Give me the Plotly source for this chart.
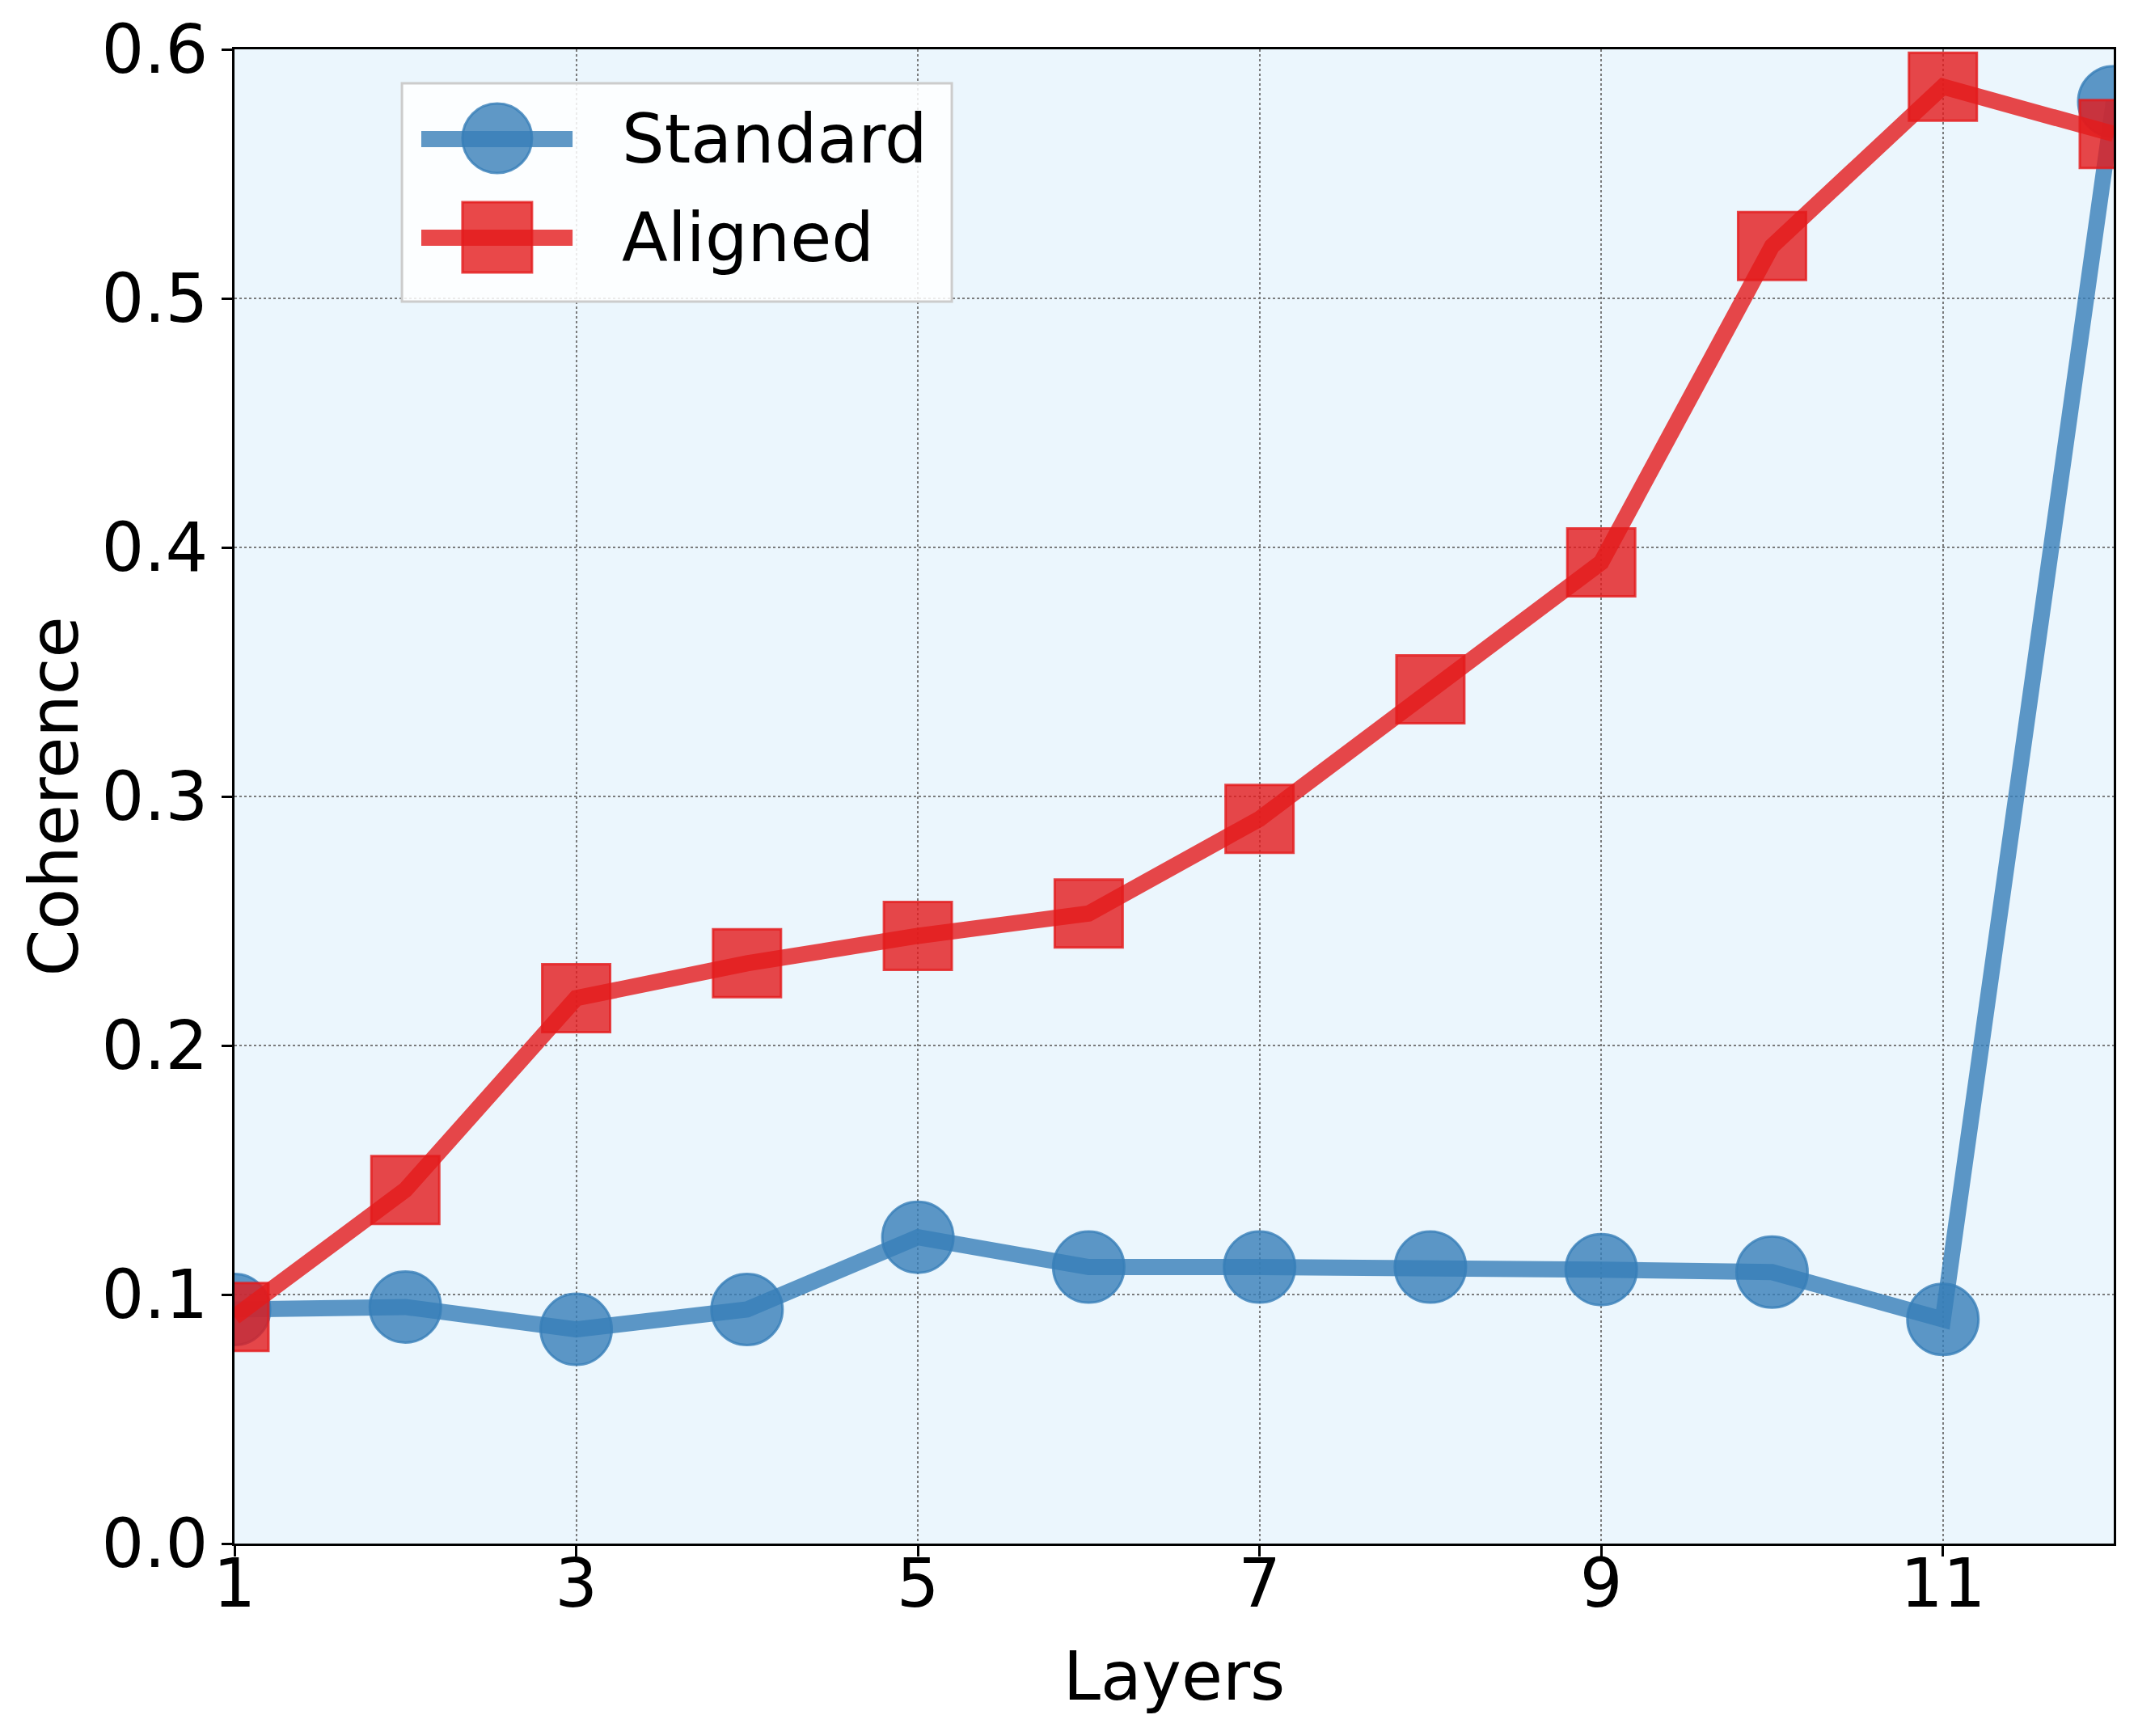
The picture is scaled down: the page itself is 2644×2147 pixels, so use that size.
import plotly.graph_objects as go

layers = [1, 2, 3, 4, 5, 6, 7, 8, 9, 10, 11, 12]
standard = [0.094, 0.095, 0.086, 0.094, 0.123, 0.111, 0.111, 0.111, 0.110, 0.109, 0.090, 0.579]
aligned = [0.091, 0.142, 0.219, 0.233, 0.244, 0.253, 0.291, 0.343, 0.394, 0.521, 0.585, 0.566]
series_names = ["Standard", "Aligned"]
x_ticks = [1, 3, 5, 7, 9, 11]
y_ticks = [0.0, 0.1, 0.2, 0.3, 0.4, 0.5, 0.6]

BLUE = "rgba(55,126,184,0.8)"
RED = "rgba(228,26,28,0.8)"
FONT = "DejaVu Sans"
LW = 20
MS = 88

fig = go.Figure()
fig.add_trace(go.Scatter(
    x=layers, y=standard, name=series_names[0], mode="lines+markers", showlegend=False,
    line=dict(color=BLUE, width=LW),
    marker=dict(symbol="circle", size=MS, color=BLUE, line=dict(color=BLUE, width=3)),
))
fig.add_trace(go.Scatter(
    x=layers, y=aligned, name=series_names[1], mode="lines+markers", showlegend=False,
    line=dict(color=RED, width=LW),
    marker=dict(symbol="square", size=MS - 4, color=RED, line=dict(color=RED, width=3)),
))

axis_common = dict(
    showline=True, linecolor="black", linewidth=3, mirror=True,
    ticks="outside", ticklen=13, tickwidth=3, tickcolor="black",
    showgrid=True, gridcolor="rgba(110,110,110,0.9)", gridwidth=2, griddash="dot",
    zeroline=False, ticklabeloverflow="allow",
    tickfont=dict(family=FONT, size=83, color="black"),
)

fig.update_xaxes(
    range=[1, 12], tickvals=x_ticks, ticktext=[str(v) for v in x_ticks],
    ticklabelstandoff=-38,
    title=dict(text="Layers", font=dict(family=FONT, size=83, color="black"), standoff=39),
    **axis_common,
)
fig.update_yaxes(
    range=[0, 0.6], tickvals=y_ticks, ticktext=[f"{v:.1f}" for v in y_ticks],
    automargin=False,
    title=dict(text="Coherence", font=dict(family=FONT, size=83, color="black"), standoff=2),
    **axis_common,
)

# Legend drawn in paper coordinates (matplotlib-style large handles)
shapes = [
    dict(type="rect", xref="paper", yref="paper", x0=0.0891, x1=0.3817, y0=0.8312, y1=0.9773,
         line=dict(color="#cccccc", width=3), fillcolor="rgba(255,255,255,0.85)", layer="above"),
    dict(type="line", xref="paper", yref="paper", x0=0.0994, x1=0.1799, y0=0.9399, y1=0.9399,
         line=dict(color=BLUE, width=LW), layer="above"),
    dict(type="circle", xref="paper", yref="paper", x0=0.1213, x1=0.1583, y0=0.9172, y1=0.9637,
         line=dict(color=BLUE, width=3), fillcolor=BLUE, layer="above"),
    dict(type="line", xref="paper", yref="paper", x0=0.0994, x1=0.1799, y0=0.8739, y1=0.8739,
         line=dict(color=RED, width=LW), layer="above"),
    dict(type="rect", xref="paper", yref="paper", x0=0.1213, x1=0.1583, y0=0.8506, y1=0.8977,
         line=dict(color=RED, width=3), fillcolor=RED, layer="above"),
]
annotations = [
    dict(text=series_names[0], xref="paper", yref="paper", x=0.2052, y=0.9399,
         xanchor="left", yanchor="middle", showarrow=False,
         font=dict(family=FONT, size=83, color="black")),
    dict(text=series_names[1], xref="paper", yref="paper", x=0.2052, y=0.8739,
         xanchor="left", yanchor="middle", showarrow=False,
         font=dict(family=FONT, size=83, color="black")),
]

fig.update_layout(
    width=2644, height=2147,
    margin=dict(l=282, r=38, t=53, b=246),
    paper_bgcolor="white", plot_bgcolor="#ebf6fd",
    font=dict(family=FONT, size=83, color="black"),
    shapes=shapes, annotations=annotations,
    showlegend=False,
)

fig.write_html("out.html")
